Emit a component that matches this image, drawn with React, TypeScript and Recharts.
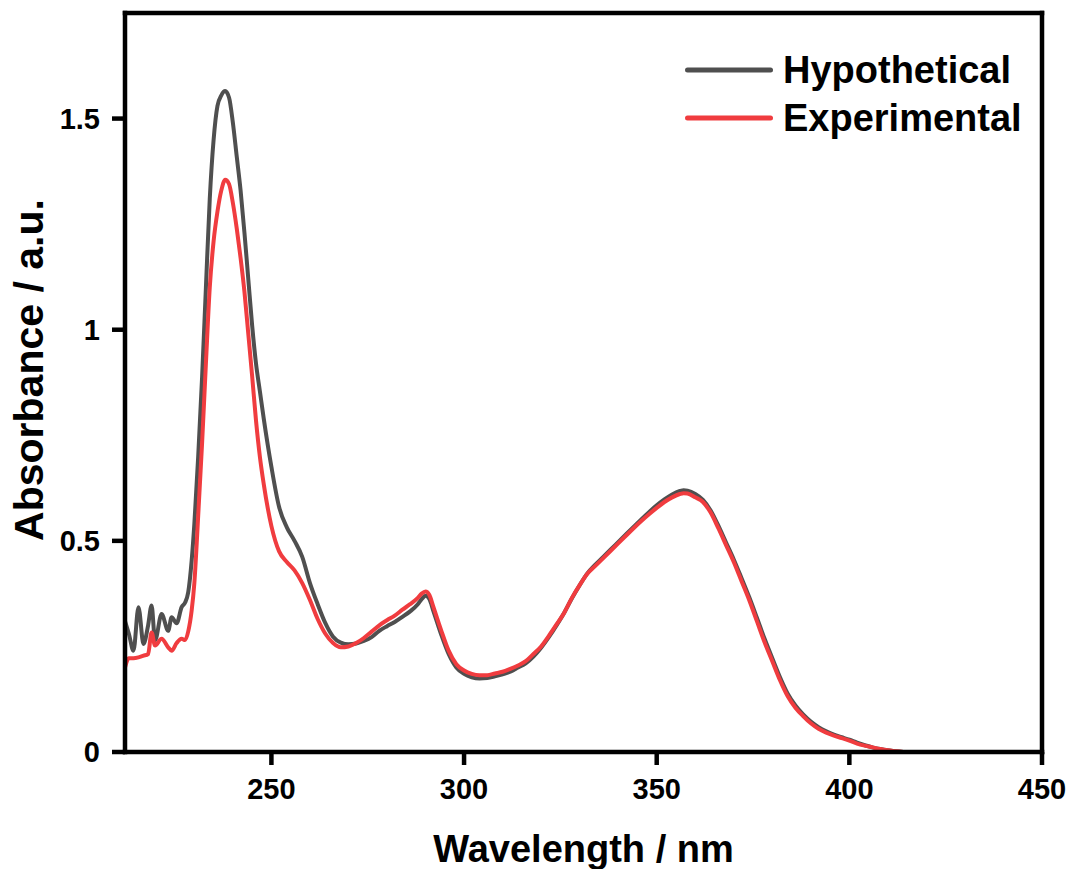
import React from "react";
import { LineChart, Line, XAxis, YAxis } from "recharts";

// Wavelength grid (nm), shared by both spectra
const wavelengths = [
  212, 213, 214.2, 215.5, 216.8, 218, 218.9, 219.8, 221.5, 223.2, 224.1, 225.4, 226.7, 227.6, 228.4, 229.3,
  230, 231, 232, 233, 234, 235, 236, 237, 238, 239, 240, 241, 242, 243, 244, 245, 246, 247, 248,
  250, 252, 254, 256, 258, 260, 262, 264, 266, 268, 270, 272, 274, 276, 278, 280, 282, 284, 286, 288,
  289, 290, 291, 292, 294, 296, 298, 300, 302, 304, 306, 308, 310, 312, 314, 316, 318, 320, 322, 324,
  326, 328, 330, 332, 334, 336, 338, 340, 342, 344, 346, 348, 350, 352, 354, 356, 357, 358, 360, 362,
  364, 366, 368, 370, 372, 374, 376, 378, 380, 382, 384, 386, 388, 390, 392, 394, 396, 398, 400, 402,
  404, 406, 408, 410, 412, 414,
];

// Absorbance, calculated spectrum
const hypothetical = [
  0.31, 0.28, 0.24, 0.343, 0.256, 0.3, 0.347, 0.264, 0.327, 0.287, 0.319, 0.305, 0.343, 0.354, 0.378, 0.453,
  0.54, 0.7, 0.886, 1.1, 1.31, 1.45, 1.53, 1.555, 1.565, 1.55, 1.49, 1.41, 1.33, 1.23, 1.12, 1.01, 0.92, 0.855, 0.79,
  0.675, 0.58, 0.532, 0.5, 0.462, 0.4, 0.35, 0.305, 0.273, 0.259, 0.255, 0.257, 0.263, 0.272, 0.287, 0.298, 0.308, 0.32, 0.333, 0.35,
  0.362, 0.37, 0.362, 0.335, 0.28, 0.232, 0.2, 0.185, 0.177, 0.174, 0.175, 0.179, 0.184, 0.19, 0.2, 0.21, 0.226, 0.247, 0.272, 0.3,
  0.33, 0.364, 0.395, 0.423, 0.443, 0.461, 0.479, 0.497, 0.515, 0.533, 0.551, 0.568, 0.584, 0.598, 0.61, 0.618, 0.62, 0.619, 0.611, 0.597,
  0.572, 0.536, 0.496, 0.456, 0.412, 0.367, 0.318, 0.268, 0.222, 0.177, 0.138, 0.11, 0.089, 0.072, 0.059, 0.049, 0.041, 0.035, 0.029, 0.022,
  0.016, 0.011, 0.007, 0.004, 0.002, 0,
];

// Absorbance, measured spectrum
const experimental = [
  0.2, 0.222, 0.222, 0.224, 0.228, 0.232, 0.283, 0.252, 0.268, 0.248, 0.24, 0.258, 0.268, 0.265, 0.285, 0.335,
  0.4, 0.56, 0.73, 0.92, 1.1, 1.21, 1.28, 1.33, 1.355, 1.345, 1.3, 1.24, 1.17, 1.09, 0.99, 0.89, 0.785, 0.7, 0.635,
  0.535, 0.475, 0.45, 0.43, 0.4, 0.36, 0.315, 0.28, 0.258, 0.248, 0.25, 0.258, 0.27, 0.285, 0.3, 0.312, 0.323, 0.337, 0.35, 0.365,
  0.375, 0.38, 0.372, 0.345, 0.29, 0.24, 0.208, 0.193, 0.185, 0.182, 0.182, 0.186, 0.19, 0.197, 0.205, 0.215, 0.232, 0.25, 0.275, 0.302,
  0.33, 0.365, 0.395, 0.422, 0.44, 0.458, 0.476, 0.494, 0.512, 0.53, 0.547, 0.563, 0.578, 0.592, 0.603, 0.611, 0.613, 0.612, 0.603, 0.592,
  0.567, 0.53, 0.49, 0.45, 0.405, 0.36, 0.31, 0.26, 0.215, 0.17, 0.132, 0.105, 0.085, 0.068, 0.055, 0.046, 0.039, 0.033, 0.027, 0.02,
  0.015, 0.011, 0.007, 0.004, 0.002, 0,
];

const xTicks = [250, 300, 350, 400, 450];
const yTicks = [0, 0.5, 1, 1.5];
const seriesNames = ["Hypothetical", "Experimental"];
const seriesColors = ["#4f4f4f", "#f03c3f"];

const data = wavelengths.map((wl, i) => ({
  wl,
  hyp: hypothetical[i],
  exp: experimental[i],
}));

const FONT = "'Liberation Sans', Arial, Helvetica, sans-serif";
const axisStroke = { stroke: "#000", strokeWidth: 4.5, strokeLinecap: "square" as const };
const tickStyle = { fill: "#000", fontSize: 29, fontWeight: 700, fontFamily: FONT };

const formatY = (v: number) => (v === 0 ? "0" : String(v));

function LegendBox() {
  return (
    <div
      style={{
        position: "absolute",
        left: 680,
        top: 46,
        fontFamily: FONT,
        fontWeight: 700,
        fontSize: 38,
        color: "#000",
        pointerEvents: "none",
      }}
    >
      {seriesNames.map((name, i) => (
        <div key={name} style={{ display: "flex", alignItems: "center", height: 48 }}>
          <svg width={98} height={10} style={{ display: "block" }}>
            <line x1={7.5} y1={5} x2={90.5} y2={5} stroke={seriesColors[i]} strokeWidth={5} strokeLinecap="round" />
          </svg>
          <span style={{ marginLeft: 5, lineHeight: "48px" }}>{name}</span>
        </div>
      ))}
    </div>
  );
}

function YTitle() {
  const cx = 29;
  const cy = 370;
  return (
    <text
      x={cx}
      y={cy}
      transform={`rotate(-90, ${cx}, ${cy})`}
      textAnchor="middle"
      dominantBaseline="central"
      fill="#000"
      fontSize={41}
      fontWeight={700}
      fontFamily={FONT}
    >
      Absorbance / a.u.
    </text>
  );
}

export default function App() {
  return (
    <div style={{ position: "absolute", left: 0, top: 0, width: 1070, height: 869, background: "#fff" }}>
      <LineChart width={1070} height={869} data={data} margin={{ top: 12, right: 27, bottom: 0, left: 0 }}>
        <XAxis
          xAxisId="b"
          dataKey="wl"
          type="number"
          domain={[212, 450]}
          ticks={xTicks}
          allowDataOverflow
          height={117}
          tickSize={13}
          tickMargin={13}
          axisLine={axisStroke}
          tickLine={{ stroke: "#000", strokeWidth: 4.5 }}
          tick={tickStyle}
          label={{
            value: "Wavelength / nm",
            position: "insideBottom",
            offset: 7,
            fill: "#000",
            fontSize: 38,
            fontWeight: 700,
            fontFamily: FONT,
          }}
        />
        <XAxis
          xAxisId="t"
          orientation="top"
          dataKey="wl"
          type="number"
          domain={[212, 450]}
          allowDataOverflow
          height={1}
          tick={false}
          tickLine={false}
          axisLine={axisStroke}
        />
        <YAxis
          yAxisId="l"
          type="number"
          domain={[0, 1.75]}
          ticks={yTicks}
          allowDataOverflow
          width={125}
          tickSize={13}
          tickMargin={12}
          axisLine={axisStroke}
          tickLine={{ stroke: "#000", strokeWidth: 4.5 }}
          tick={tickStyle}
          tickFormatter={formatY}
          label={<YTitle />}
        />
        <YAxis
          yAxisId="r"
          orientation="right"
          type="number"
          domain={[0, 1.75]}
          allowDataOverflow
          width={1}
          tick={false}
          tickLine={false}
          axisLine={axisStroke}
        />
        <Line
          xAxisId="b"
          yAxisId="l"
          dataKey="hyp"
          name={seriesNames[0]}
          type="monotone"
          stroke={seriesColors[0]}
          strokeWidth={4}
          dot={false}
          isAnimationActive={false}
        />
        <Line
          xAxisId="b"
          yAxisId="l"
          dataKey="exp"
          name={seriesNames[1]}
          type="monotone"
          stroke={seriesColors[1]}
          strokeWidth={4}
          dot={false}
          isAnimationActive={false}
        />
      </LineChart>
      <LegendBox />
    </div>
  );
}
